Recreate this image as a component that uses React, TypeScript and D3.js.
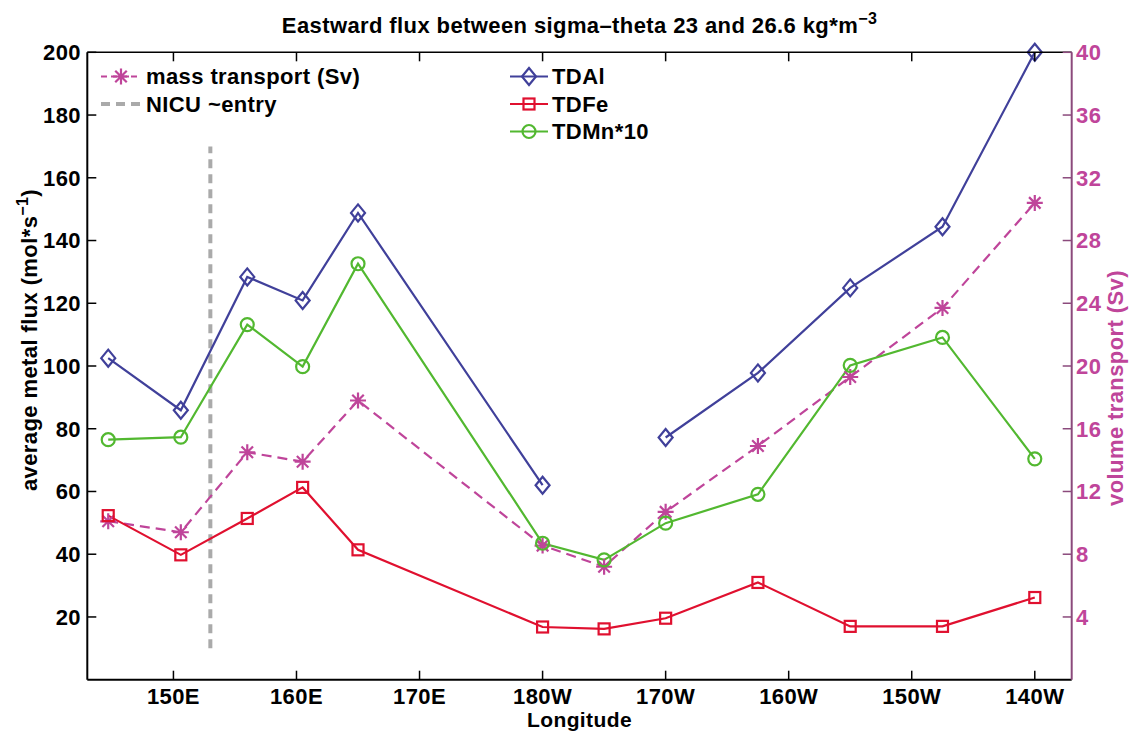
import React from "react";
import * as d3 from "d3";

// station longitudes (degrees east, 180W = 180, 140W = 220)
const lons = [144.7, 150.6, 156, 160.5, 165, 180, 185, 190, 197.5, 205, 212.5, 220];
const tdal: (number | null)[] = [102.5, 85.9, 128.4, 120.9, 148.8, 62.0, null, 77.2, 97.8, 124.9, 144.4, 200];
const tdfe = [52.3, 39.8, 51.4, 61.3, 41.4, 16.8, 16.2, 19.6, 31.0, 17.0, 17.0, 26.2];
const tdmn10 = [76.5, 77.3, 113.2, 99.8, 132.6, 43.5, 38.2, 49.9, 59.1, 100.2, 109.1, 70.4];
const massSv = [10.1, 9.4, 14.5, 13.9, 17.8, 8.55, 7.2, 10.7, 14.9, 19.3, 23.7, 30.4];

const nicuLon = 153;
const nicuRange = [10, 170];

const xTickLons = [150, 160, 170, 180, 190, 200, 210, 220];
const xTickLabels = ["150E", "160E", "170E", "180W", "170W", "160W", "150W", "140W"];
const leftTicks = [20, 40, 60, 80, 100, 120, 140, 160, 180, 200];
const rightTicks = [4, 8, 12, 16, 20, 24, 28, 32, 36, 40];

const W = 1129;
const H = 732;
const L = 87.3;
const R = 1071.7;
const T = 52.3;
const B = 679.7;

const C_AL = "#40409a";
const C_FE = "#e0102f";
const C_MN = "#52b830";
const C_MASS = "#bf459a";
const C_NICU = "#aaaaaa";
const C_RAXIS = "#8b4a7c";

const FONT = "'Liberation Sans', Arial, Helvetica, sans-serif";
const FS = 22;

const x = d3.scaleLinear().domain([143, 223]).range([L, R]);
const y = d3.scaleLinear().domain([0, 200]).range([B, T]);
const yR = d3.scaleLinear().domain([0, 40]).range([B, T]);

const lineGen = (vals: (number | null)[], scale: d3.ScaleLinear<number, number>) =>
  d3
    .line<number>()
    .defined((_, i) => vals[i] != null)
    .x((d) => x(d))
    .y((_, i) => scale(vals[i] as number))(lons) || "";

const Diamond = ({ cx, cy, c }: any) => (
  <path
    d={`M${cx},${cy - 8.5}L${cx + 7},${cy}L${cx},${cy + 8.5}L${cx - 7},${cy}Z`}
    fill="none"
    stroke={c}
    strokeWidth={2.2}
  />
);
const Square = ({ cx, cy, c }: any) => (
  <rect x={cx - 5.5} y={cy - 5.5} width={11} height={11} fill="none" stroke={c} strokeWidth={2.2} />
);
const Circle = ({ cx, cy, c }: any) => <circle cx={cx} cy={cy} r={6.5} fill="none" stroke={c} strokeWidth={2.2} />;
const Star = ({ cx, cy, c }: any) => {
  const s = 8;
  const d = s * 0.72;
  return (
    <path
      d={`M${cx - s},${cy}L${cx + s},${cy}M${cx},${cy - s}L${cx},${cy + s}M${cx - d},${cy - d}L${cx + d},${cy + d}M${cx - d},${cy + d}L${cx + d},${cy - d}`}
      stroke={c}
      strokeWidth={2.2}
      fill="none"
    />
  );
};

const txt = { fontFamily: FONT, fontWeight: "bold" as const, fontSize: FS, letterSpacing: "0.4px" };

export default function App() {
  const legend1 = [
    { label: "mass transport (Sv)", color: C_MASS, dash: "6,4", marker: Star, w: 2.2 },
    { label: "NICU ~entry", color: C_NICU, dash: "9,6", marker: null, w: 4 },
  ];
  const legend2 = [
    { label: "TDAl", color: C_AL, marker: Diamond },
    { label: "TDFe", color: C_FE, marker: Square },
    { label: "TDMn*10", color: C_MN, marker: Circle },
  ];
  const rowBase = [84, 111.5, 139];

  return (
    <svg width={W} height={H} style={{ position: "absolute", left: 0, top: 0, background: "#fff" }}>
      <rect width={W} height={H} fill="#fff" />

      {/* title */}
      <text x={(L + R) / 2} y={33} textAnchor="middle" style={txt}>
        Eastward flux between sigma–theta 23 and 26.6 kg*m
        <tspan dy={-9} fontSize={16}>−3</tspan>
      </text>

      {/* NICU marker line */}
      <line
        x1={x(nicuLon)}
        x2={x(nicuLon)}
        y1={y(nicuRange[0])}
        y2={y(nicuRange[1])}
        stroke={C_NICU}
        strokeWidth={4}
        strokeDasharray="9,6"
      />

      {/* series */}
      <path d={lineGen(massSv, yR)} fill="none" stroke={C_MASS} strokeWidth={2.2} strokeDasharray="10,6" />
      <path d={lineGen(tdal, y)} fill="none" stroke={C_AL} strokeWidth={2.2} />
      <path d={lineGen(tdfe, y)} fill="none" stroke={C_FE} strokeWidth={2.2} />
      <path d={lineGen(tdmn10, y)} fill="none" stroke={C_MN} strokeWidth={2.2} />

      {lons.map((lon, i) => (
        <g key={i}>
          <Star cx={x(lon)} cy={yR(massSv[i])} c={C_MASS} />
          {tdal[i] != null && <Diamond cx={x(lon)} cy={y(tdal[i] as number)} c={C_AL} />}
          <Square cx={x(lon)} cy={y(tdfe[i])} c={C_FE} />
          <Circle cx={x(lon)} cy={y(tdmn10[i])} c={C_MN} />
        </g>
      ))}

      {/* frame */}
      <line x1={L} x2={R} y1={T} y2={T} stroke="#000" strokeWidth={1.5} />
      <line x1={L} x2={R} y1={B} y2={B} stroke="#000" strokeWidth={2} />
      <line x1={L} x2={L} y1={T} y2={B} stroke="#000" strokeWidth={2} />

      {/* x ticks */}
      {xTickLons.map((lon, i) => (
        <g key={lon}>
          <line x1={x(lon)} x2={x(lon)} y1={B} y2={B - 9} stroke="#000" strokeWidth={1.5} />
          <line x1={x(lon)} x2={x(lon)} y1={T} y2={T + 9} stroke="#000" strokeWidth={1.5} />
          <text x={x(lon)} y={704} textAnchor="middle" style={txt}>
            {xTickLabels[i]}
          </text>
        </g>
      ))}
      <text x={(L + R) / 2} y={726.5} textAnchor="middle" style={{ ...txt, fontSize: 21 }}>
        Longitude
      </text>

      {/* left ticks */}
      {leftTicks.map((v) => (
        <g key={v}>
          <line x1={L} x2={L + 9} y1={y(v)} y2={y(v)} stroke="#000" strokeWidth={1.5} />
          <text x={81} y={y(v)} dy="0.36em" textAnchor="end" style={txt}>
            {v}
          </text>
        </g>
      ))}
      <text transform={`translate(37,340) rotate(-90)`} textAnchor="middle" style={txt}>
        average metal flux (mol*s
        <tspan dy={-9} fontSize={16}>−1</tspan>
        <tspan dy={9}>)</tspan>
      </text>

      {/* right axis */}
      <line x1={R} x2={R} y1={T} y2={B} stroke={C_RAXIS} strokeWidth={2} />
      {rightTicks.map((v) => (
        <g key={v}>
          <line x1={R} x2={R - 9} y1={yR(v)} y2={yR(v)} stroke={C_RAXIS} strokeWidth={1.5} />
          <text x={1076} y={yR(v)} dy="0.36em" textAnchor="start" style={{ ...txt, fill: C_MASS }}>
            {v}
          </text>
        </g>
      ))}
      <text transform={`translate(1123,388) rotate(-90)`} textAnchor="middle" style={{ ...txt, fill: C_MASS }}>
        volume transport (Sv)
      </text>

      {/* legend 1 */}
      {legend1.map((d, i) => {
        const cy = rowBase[i] - 7.5;
        const M = d.marker;
        return (
          <g key={d.label}>
            <line x1={101} x2={141} y1={cy} y2={cy} stroke={d.color} strokeWidth={d.w} strokeDasharray={d.dash} />
            {M && <M cx={121} cy={cy} c={d.color} />}
            <text x={146} y={rowBase[i]} style={txt}>
              {d.label}
            </text>
          </g>
        );
      })}

      {/* legend 2 */}
      {legend2.map((d, i) => {
        const cy = rowBase[i] - 7.5;
        const M = d.marker;
        return (
          <g key={d.label}>
            <line x1={510} x2={548} y1={cy} y2={cy} stroke={d.color} strokeWidth={2.2} />
            <M cx={529} cy={cy} c={d.color} />
            <text x={552} y={rowBase[i]} style={txt}>
              {d.label}
            </text>
          </g>
        );
      })}
    </svg>
  );
}
